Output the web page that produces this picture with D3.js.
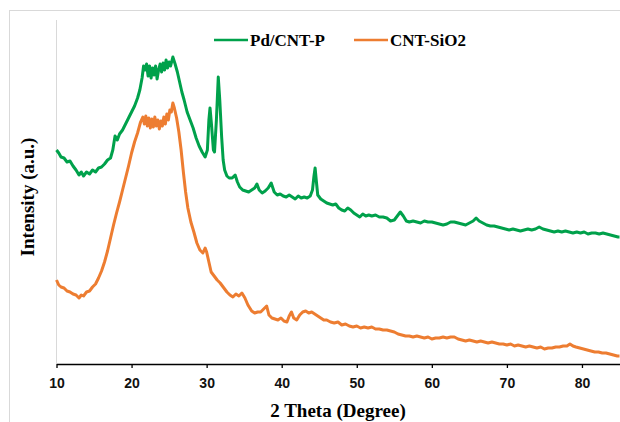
<!DOCTYPE html>
<html lang="en">
<head>
  <meta charset="utf-8">
  <title>XRD patterns</title>
  <script src="https://cdn.jsdelivr.net/npm/d3@7"></script>
  <style>
    body { margin: 0; background: #fff; }
    svg { display: block; }
  </style>
</head>
<body>
<script>
// 2 theta (degree) and intensity (arbitrary units) for each sample
var pdTheta = [10.0,10.3,10.6,11.0,11.4,11.8,12.2,12.6,13.0,13.3,13.6,14.0,14.4,14.8,15.2,15.6,16.0,16.4,16.8,17.2,17.5,17.8,18.1,18.4,18.8,19.2,19.6,20.0,20.4,20.8,21.1,21.4,21.6,21.8,22.0,22.2,22.4,22.6,22.8,23.0,23.2,23.4,23.6,23.8,24.0,24.2,24.4,24.6,24.8,25.0,25.2,25.5,25.8,26.1,26.4,26.7,27.0,27.4,27.8,28.2,28.6,29.0,29.4,29.8,30.1,30.3,30.45,30.65,30.9,31.05,31.3,31.55,31.75,32.0,32.2,32.4,32.7,33.0,33.4,33.8,34.1,34.4,34.8,35.2,35.6,36.0,36.4,36.7,37.0,37.4,37.8,38.2,38.6,39.0,39.4,39.8,40.2,40.6,41.0,41.4,41.8,42.2,42.6,43.0,43.4,43.8,44.1,44.3,44.45,44.6,44.8,45.2,45.6,46.0,46.4,46.8,47.2,47.6,48.0,48.4,48.8,49.2,49.6,50.0,50.4,50.8,51.2,51.6,52.0,52.5,53.0,53.5,54.0,54.5,55.0,55.4,55.8,56.2,56.6,57.0,57.5,58.0,58.5,59.0,59.5,60.0,60.5,61.0,61.5,62.0,62.5,63.0,63.5,64.0,64.5,65.0,65.5,65.9,66.3,66.8,67.3,67.8,68.3,68.8,69.3,69.8,70.3,70.8,71.3,71.8,72.3,72.8,73.3,73.8,74.3,74.8,75.3,75.8,76.3,76.8,77.3,77.8,78.3,78.8,79.3,79.8,80.3,80.8,81.3,81.8,82.3,82.8,83.3,83.8,84.3,84.8,85.0];
var pdIntensity = [214,211,207,206,202,203,198,194,189,192,188,192,190,194,192,196,197,200,204,206,214,228,224,230,234,240,246,252,258,266,274,286,298,294,300,288,298,286,296,289,298,285,294,300,292,301,294,304,296,302,298,307,300,292,282,272,264,252,244,236,226,218,212,207,214,244,256,239,214,212,244,287,264,227,204,194,188,186,186,189,182,177,174,173,172,174,176,180,174,171,173,176,181,172,169,170,168,167,169,167,165,168,166,167,166,168,174,188,196,184,169,165,163,161,160,159,160,156,154,153,156,154,151,149,147,150,148,149,148,149,147,147,146,143,144,148,152,148,143,142,143,142,141,143,142,142,141,140,139,140,142,142,141,140,139,141,143,146,143,141,139,138,138,137,136,135,134,135,134,133,134,135,134,135,137,135,134,133,132,133,132,133,132,131,132,131,132,130,131,131,130,131,130,129,128,127,127];

var siTheta = [10.0,10.3,10.6,11.0,11.4,11.8,12.2,12.6,13.0,13.3,13.6,14.0,14.4,14.8,15.2,15.6,16.0,16.4,16.8,17.2,17.6,18.0,18.4,18.8,19.2,19.6,20.0,20.4,20.8,21.2,21.5,21.7,21.9,22.1,22.3,22.5,22.7,22.9,23.1,23.3,23.5,23.7,23.9,24.1,24.3,24.5,24.7,24.9,25.1,25.3,25.5,25.7,26.0,26.3,26.6,26.9,27.2,27.5,27.9,28.3,28.7,29.1,29.5,29.8,30.0,30.3,30.6,31.0,31.4,31.8,32.2,32.7,33.1,33.5,33.9,34.3,34.7,35.1,35.5,36.0,36.4,36.8,37.2,37.6,38.0,38.3,38.7,39.1,39.5,39.9,40.3,40.7,41.0,41.3,41.6,42.0,42.4,42.8,43.2,43.6,44.0,44.4,44.8,45.2,45.6,46.0,46.5,47.0,47.5,48.0,48.5,49.0,49.5,50.0,50.5,51.0,51.5,52.0,52.5,53.0,53.5,54.0,54.5,55.0,55.5,56.0,56.5,57.0,57.5,58.0,58.5,59.0,59.5,60.0,60.5,61.0,61.5,62.0,62.5,63.0,63.5,64.0,64.5,65.0,65.5,66.0,66.5,67.0,67.5,68.0,68.5,69.0,69.5,70.0,70.5,71.0,71.5,72.0,72.5,73.0,73.5,74.0,74.5,75.0,75.5,76.0,76.5,77.0,77.5,78.0,78.4,78.8,79.2,79.7,80.2,80.7,81.2,81.7,82.2,82.7,83.2,83.7,84.2,84.7,85.0];
var siIntensity = [84,79,77,76,73,72,70,69,66,69,68,72,73,77,80,86,93,102,113,126,139,151,162,174,186,198,211,222,231,242,247,240,248,238,246,236,245,237,247,238,244,235,243,238,247,240,250,244,254,252,261,256,246,232,214,192,172,156,142,132,121,114,111,116,112,102,92,88,84,81,77,72,69,67,70,68,71,66,59,53,51,52,52,55,58,49,46,45,44,46,43,42,48,52,46,44,49,52,53,51,52,50,48,46,44,44,42,41,42,39,40,38,37,38,36,37,36,37,35,35,34,34,33,32,30,29,28,28,27,28,27,26,27,25,26,26,27,26,27,27,25,24,23,24,23,22,23,22,21,22,21,20,20,19,20,18,19,18,17,18,17,16,17,15,16,16,17,17,18,18,20,18,17,16,15,14,13,12,12,11,11,10,9,8,8];

var xTicks = [10, 20, 30, 40, 50, 60, 70, 80];
var seriesNames = ["Pd/CNT-P", "CNT-SiO2"];
var seriesColors = ["#00A14B", "#ED7D31"];

var width = 620, height = 422;
var plotLeft = 56.5, plotRight = 619.5, plotTop = 20, plotBottom = 364;

var svg = d3.select("body").append("svg")
  .attr("width", width)
  .attr("height", height);

// chart frame
svg.append("rect")
  .attr("x", 9.5).attr("y", 10.5)
  .attr("width", 640).attr("height", 440)
  .attr("fill", "none")
  .attr("stroke", "#d9d9d9");

var x = d3.scaleLinear().domain([10, 85]).range([plotLeft, plotRight]);
var y = d3.scaleLinear().domain([0, 344]).range([plotBottom, plotTop]);

// vertical axis: just a light line, no ticks
svg.append("line")
  .attr("x1", plotLeft).attr("x2", plotLeft)
  .attr("y1", plotTop).attr("y2", plotBottom)
  .attr("stroke", "#d9d9d9");

var xAxis = svg.append("g")
  .attr("transform", "translate(0," + plotBottom + ")")
  .call(d3.axisBottom(x).tickValues(xTicks).tickSize(4).tickSizeOuter(0));
xAxis.select(".domain").attr("stroke", "#000").attr("stroke-width", 1.3);
xAxis.selectAll(".tick line").attr("stroke", "#000").attr("stroke-width", 1.3);
xAxis.selectAll(".tick text")
  .attr("y", 14)
  .attr("fill", "#111")
  .attr("font-family", "Liberation Sans, Arial, sans-serif")
  .attr("font-weight", "bold")
  .attr("font-size", 14);

var line = d3.line()
  .x(function(d) { return x(d[0]); })
  .y(function(d) { return y(d[1]); });

var series = [
  d3.zip(pdTheta, pdIntensity),
  d3.zip(siTheta, siIntensity)
];

svg.selectAll(".series")
  .data(series)
  .enter().append("path")
  .attr("class", "series")
  .attr("d", line)
  .attr("fill", "none")
  .attr("stroke", function(d, i) { return seriesColors[i]; })
  .attr("stroke-width", 3)
  .attr("stroke-linejoin", "round");

// axis titles
svg.append("text")
  .attr("x", 338).attr("y", 417)
  .attr("text-anchor", "middle")
  .attr("font-family", "Liberation Serif, Times New Roman, serif")
  .attr("font-weight", "bold")
  .attr("font-size", 19)
  .text("2 Theta (Degree)");

svg.append("text")
  .attr("transform", "translate(34,197) rotate(-90)")
  .attr("text-anchor", "middle")
  .attr("font-family", "Liberation Serif, Times New Roman, serif")
  .attr("font-weight", "bold")
  .attr("font-size", 19)
  .text("Intensity (a.u.)");

// legend
var legendX = [214, 354];
var legend = svg.selectAll(".legend")
  .data(seriesNames)
  .enter().append("g")
  .attr("class", "legend")
  .attr("transform", function(d, i) { return "translate(" + legendX[i] + ",40)"; });

legend.append("line")
  .attr("x1", 0).attr("x2", 34)
  .attr("stroke", function(d, i) { return seriesColors[i]; })
  .attr("stroke-width", 2.7);

legend.append("text")
  .attr("x", 36).attr("y", 5.5)
  .attr("font-family", "Liberation Serif, Times New Roman, serif")
  .attr("font-weight", "bold")
  .attr("font-size", 17)
  .text(function(d) { return d; });
</script>
</body>
</html>
